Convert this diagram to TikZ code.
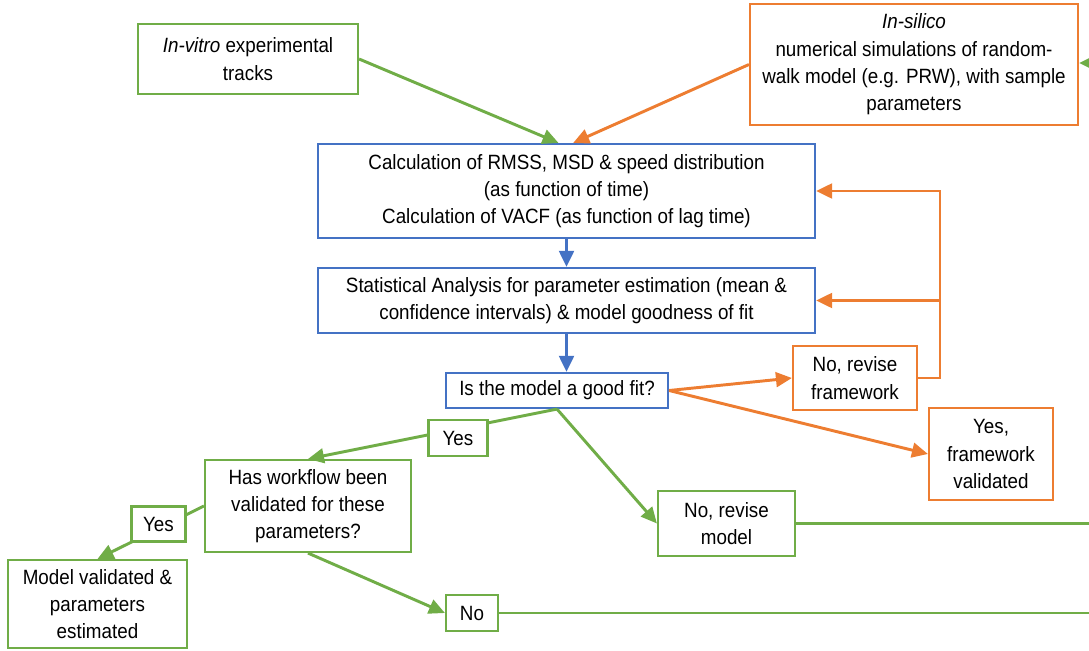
\documentclass[tikz,border=0pt]{standalone}
\usepackage{fontspec}
\setmainfont{Liberation Sans}[FakeStretch=0.91]
\usetikzlibrary{arrows.meta}
\definecolor{flowgreen}{RGB}{112,173,71}
\definecolor{floworange}{RGB}{237,125,49}
\definecolor{flowblue}{RGB}{68,114,196}

\begin{document}
\begin{tikzpicture}[x=0.75pt,y=0.75pt,yscale=-1,xscale=1,
    every node/.style={font=\fontsize{15.5}{20.5}\selectfont, align=center, inner sep=0.75pt},
    greenbox/.style={draw=flowgreen, line width=1.6pt, fill=white},
    orangebox/.style={draw=floworange, line width=1.6pt, fill=white},
    bluebox/.style={draw=flowblue, line width=1.6pt, fill=white},
    greenarrow/.style={draw=flowgreen, line width=2.2pt, -{Triangle[length=12pt,width=11pt]}},
    orangearrow/.style={draw=floworange, line width=2.2pt, -{Triangle[length=12pt,width=11pt]}},
    bluearrow/.style={draw=flowblue, line width=2.2pt, -{Triangle[length=12pt,width=11pt]}},
    greenline/.style={draw=flowgreen, line width=1.8pt}]
    \useasboundingbox (0,0) rectangle (1089,650);

    % Input boxes
    \node [greenbox, minimum width=165pt, minimum height=52.5pt] (vitro) at (248,59) {\textit{In-vitro} experimental\\tracks};
    \node [orangebox, minimum width=246pt, minimum height=90.75pt] (silico) at (914,64.5) {\textit{In-silico}\\numerical simulations of random-\\walk model (e.g. PRW), with sample\\parameters};

    % Analysis boxes
    \node [bluebox, minimum width=372.75pt, minimum height=70.5pt] (calc) at (566.5,191) {Calculation of RMSS, MSD \& speed distribution\\(as function of time)\\Calculation of VACF (as function of lag time)};
    \node [bluebox, minimum width=372.75pt, minimum height=48.75pt] (stat) at (566.5,300.5) {Statistical Analysis for parameter estimation (mean \&\\confidence intervals) \& model goodness of fit};
    \node [bluebox, minimum width=166.5pt, minimum height=26.25pt] (fit) at (557,390.5) {Is the model a good fit?};

    % Outcome boxes
    \node [orangebox, minimum width=93pt, minimum height=48pt] (revframe) at (855,378) {No, revise\\framework};
    \node [orangebox, minimum width=93pt, minimum height=69pt] (frameok) at (991,454) {Yes,\\framework\\validated};
    \node [greenbox, minimum width=154.5pt, minimum height=69pt] (workflow) at (308,506) {Has workflow been\\validated for these\\parameters?};
    \node [greenbox, minimum width=134.25pt, minimum height=66pt] (modelok) at (97.5,604) {Model validated \&\\parameters\\estimated};
    \node [greenbox, minimum width=102.75pt, minimum height=48.75pt] (revmodel) at (726.5,523.5) {No, revise\\model};
    \node [greenbox, minimum width=39pt, minimum height=27pt] (no) at (472,613) {No};

    % free ends at the right edge
    \coordinate (edgein) at (1095,63);
    \coordinate (edgetop) at (1089,523.5);
    \coordinate (edgebot) at (1089,613);
    \coordinate (looptop) at (940,191);
    \coordinate (loopmid) at (940,300.5);

    % Connectors
    \draw [greenarrow] (vitro.east) -- ([xshift=-6pt]calc.north);
    \draw [orangearrow] (silico.west) -- ([xshift=5pt]calc.north);
    \draw [greenarrow] (edgein) -- (silico.east |- edgein);
    \draw [bluearrow] (calc) -- (stat);
    \draw [bluearrow] (stat.south) -- (stat.south |- fit.north);
    \draw [orangearrow] (fit.east) -- (revframe.west);
    \draw [orangearrow] (fit.east) -- (frameok.west);
    \draw [orangearrow] (revframe.east) -| (looptop) -- (calc.east);
    \draw [orangearrow] (loopmid) -- (stat.east);
    \draw [greenarrow] (fit.south) -- (workflow.north);
    \draw [greenarrow] (fit.south) -- (revmodel.west);
    \draw [greenarrow] (workflow.west) -- (modelok.north);
    \draw [greenarrow] (workflow.south) -- (no.west);
    \draw [greenline] (revmodel.east) -- (edgetop);
    \draw [greenline] (no.east) -- (edgebot);

    % Labels on the connectors
    \node [greenbox, minimum width=44.25pt, minimum height=27pt] (yesfit) at (458,438) {Yes};
    \node [greenbox, minimum width=40.5pt, minimum height=26.25pt] (yesflow) at (158.5,524) {Yes};

\end{tikzpicture}
\end{document}
